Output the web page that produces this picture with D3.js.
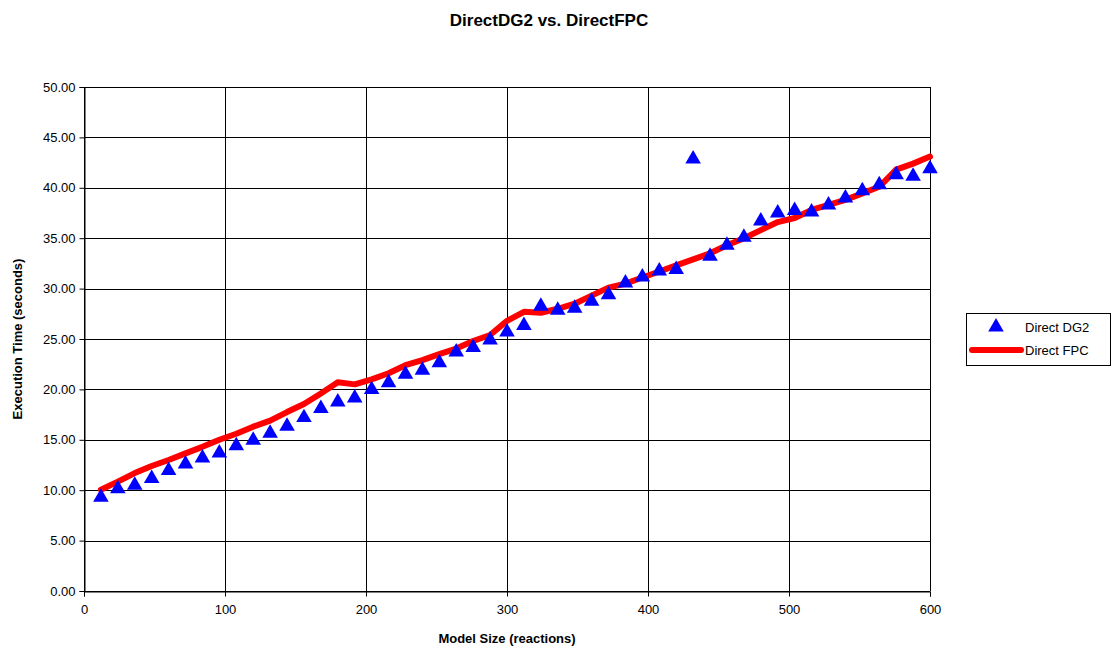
<!DOCTYPE html>
<html>
<head>
<meta charset="utf-8">
<script src="https://cdn.jsdelivr.net/npm/d3@7"></script>
<style>
  body { margin: 0; background: #fff; }
  svg { font-family: "Liberation Sans", Arial, sans-serif; }
</style>
</head>
<body>
<svg id="chart" width="1115" height="649"></svg>
<script>
const modelSize = [12,24,36,48,60,72,84,96,108,120,132,144,156,168,180,192,204,216,228,240,
  252,264,276,288,300,312,324,336,348,360,372,384,396,408,420,432,444,456,468,480,
  492,504,516,528,540,552,564,576,588,600];
const directDG2 = [9.3,10.15,10.5,11.15,11.95,12.6,13.2,13.7,14.4,14.95,15.65,16.35,17.2,18.1,18.75,19.15,20.0,20.65,21.5,21.9,
  22.65,23.7,24.15,24.9,25.7,26.35,28.25,27.85,28.05,28.75,29.4,30.55,31.15,31.75,31.9,42.85,33.2,34.3,35.1,36.7,
  37.5,37.75,37.6,38.3,39.0,39.7,40.3,41.3,41.15,41.9];
const directFPC = [10.05,10.85,11.7,12.4,13.0,13.65,14.3,15.0,15.6,16.3,16.9,17.75,18.55,19.6,20.7,20.5,21.0,21.6,22.4,22.9,
  23.5,24.05,24.8,25.4,26.8,27.7,27.6,28.0,28.5,29.3,30.1,30.5,31.1,31.7,32.3,32.9,33.5,34.3,35.0,35.8,
  36.6,37.0,37.8,38.3,38.8,39.45,40.1,41.8,42.4,43.1];
const xTicks = [0,100,200,300,400,500,600];
const yTicks = [0,5,10,15,20,25,30,35,40,45,50];
const seriesNames = ["Direct DG2", "Direct FPC"];

(function () {
const svg = d3.select("#chart");
const pL = 84, pR = 930, pT = 87, pB = 591;
const x = d3.scaleLinear().domain([0, 600]).range([pL, pR]);
const y = d3.scaleLinear().domain([0, 50]).range([pB, pT]);

// gridlines
svg.append("g").selectAll("line").data(yTicks).join("line")
  .attr("x1", pL).attr("x2", pR)
  .attr("y1", d => Math.round(y(d)) + 0.5).attr("y2", d => Math.round(y(d)) + 0.5)
  .attr("stroke", "#000").attr("stroke-width", 1);
svg.append("g").selectAll("line").data(xTicks).join("line")
  .attr("y1", pT).attr("y2", pB)
  .attr("x1", d => Math.round(x(d)) + 0.5).attr("x2", d => Math.round(x(d)) + 0.5)
  .attr("stroke", "#000").attr("stroke-width", 1);

// axes
const yAxis = d3.axisLeft(y).tickValues(yTicks).tickFormat(d3.format(".2f")).tickSize(5).tickPadding(4);
const xAxis = d3.axisBottom(x).tickValues(xTicks).tickFormat(d3.format("d")).tickSize(5).tickPadding(8);
const gy = svg.append("g").attr("transform", `translate(${pL + 0.5},0)`).call(yAxis);
const gx = svg.append("g").attr("transform", `translate(0,${pB + 0.5})`).call(xAxis);
[gx, gy].forEach(g => {
  g.selectAll("path").attr("stroke", "#000");
  g.selectAll("line").attr("stroke", "#000");
  g.selectAll("text").attr("font-size", 13).attr("fill", "#000")
    .attr("font-family", "Liberation Sans, Arial, sans-serif");
});

// line
const line = d3.line().x((d, i) => x(modelSize[i])).y(d => y(d));
svg.append("path").datum(directFPC)
  .attr("d", line).attr("fill", "none").attr("stroke", "#ff0000")
  .attr("stroke-width", 6).attr("stroke-linejoin", "round").attr("stroke-linecap", "round");

// triangles
const tri = d3.symbol().type(d3.symbolTriangle).size(105);
svg.append("g").selectAll("path").data(directDG2).join("path")
  .attr("d", tri)
  .attr("transform", (d, i) => `translate(${x(modelSize[i])},${y(d)})`)
  .attr("fill", "#0000ff");

// titles
svg.append("text").attr("x", 549).attr("y", 26).attr("text-anchor", "middle")
  .attr("font-size", 17).attr("font-weight", "bold").text("DirectDG2 vs. DirectFPC");
svg.append("text").attr("x", 507).attr("y", 643).attr("text-anchor", "middle")
  .attr("font-size", 13).attr("font-weight", "bold").text("Model Size (reactions)");
svg.append("text").attr("transform", "translate(22,339) rotate(-90)").attr("text-anchor", "middle")
  .attr("font-size", 13).attr("font-weight", "bold").text("Execution Time (seconds)");

// legend
const lg = svg.append("g").attr("transform", "translate(966,313)");
lg.append("rect").attr("x", 0.5).attr("y", 0.5).attr("width", 144).attr("height", 52)
  .attr("fill", "#fff").attr("stroke", "#000");
lg.append("path").attr("d", tri).attr("transform", "translate(30,14)").attr("fill", "#0000ff");
lg.append("line").attr("x1", 6).attr("x2", 55).attr("y1", 37).attr("y2", 37)
  .attr("stroke", "#ff0000").attr("stroke-width", 6).attr("stroke-linecap", "round");
lg.selectAll("text").data(seriesNames).join("text")
  .attr("x", 59).attr("y", (d, i) => 19 + i * 23)
  .attr("font-size", 13).text(d => d);
})();
</script>
</body>
</html>
